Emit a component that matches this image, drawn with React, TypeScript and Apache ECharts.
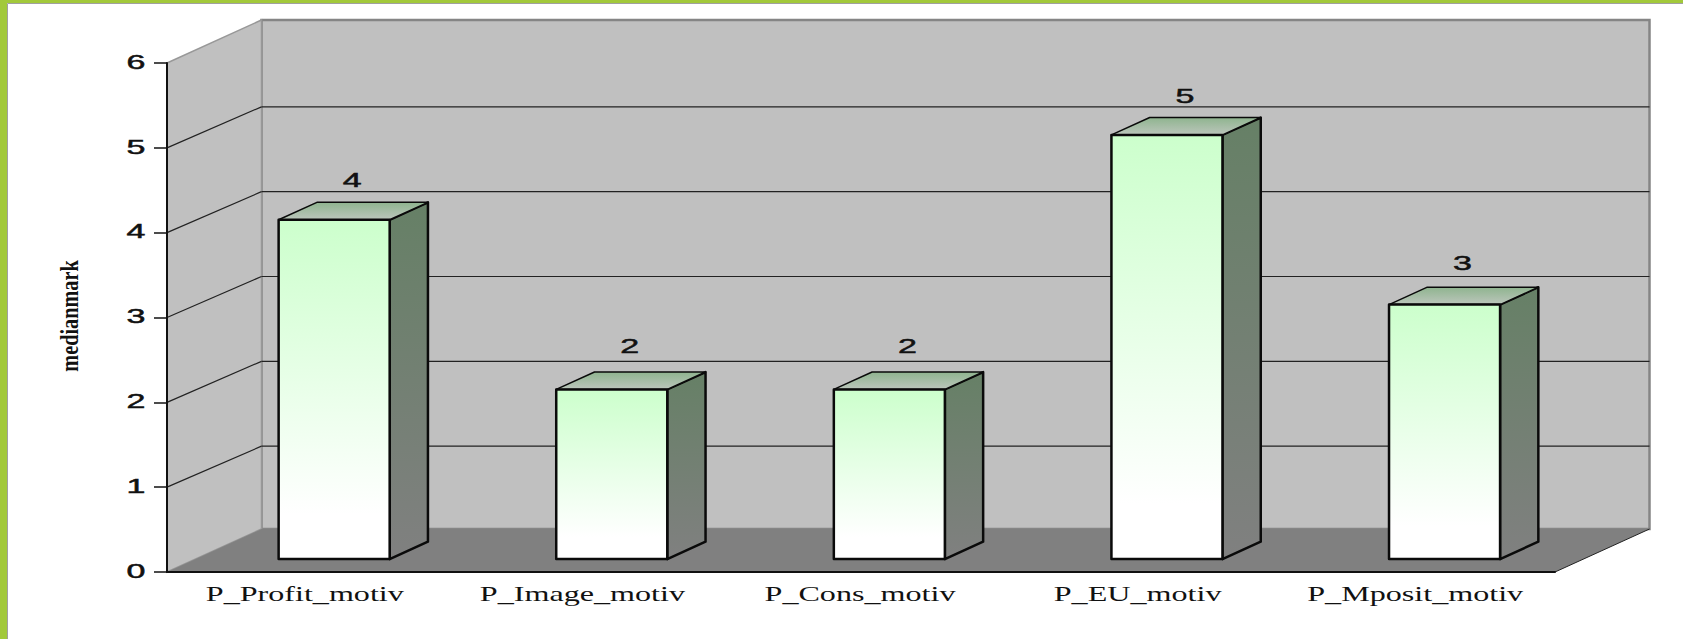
import React, { useEffect, useRef } from "react";
import * as echarts from "echarts";

const categories = ["P_Profit_motiv", "P_Image_motiv", "P_Cons_motiv", "P_EU_motiv", "P_Mposit_motiv"];
const medians = [4, 2, 2, 5, 3];
const yTicks = [0, 1, 2, 3, 4, 5, 6];
const yTitle = "medianmark";

// Oblique offset of the back plane relative to the front plane
const DEPTH_X = 94.5;
const DEPTH_Y = -43;
const GRID_DEPTH_Y = -41;
// Where a bar's front and back faces sit within that depth
const BAR_FRONT = 0.3;
const BAR_BACK = 0.705;
const BAR_WIDTH_RATIO = 0.4;

const SANS = "Liberation Sans";
const SERIF = "Liberation Serif";

const wideText = (text: string, x: number, y: number, font: string, size: number, sx: number, weight = 0) => ({
  type: "text",
  x,
  y,
  scaleX: sx,
  style: {
    text,
    fontFamily: font,
    fontSize: size,
    fill: "#111",
    stroke: weight ? "#111" : undefined,
    lineWidth: weight,
    textAlign: "center",
    textVerticalAlign: "middle",
  },
});

function renderWalls(_: any, api: any) {
  const [x0, y0] = api.coord([0, 0]);
  const band = api.size([1, 0])[0];
  const x1 = x0 - band / 2 + band * categories.length;
  const xl = x0 - band / 2;
  const yTop = api.coord([0, 6])[1];
  return {
    type: "group",
    children: [
      {
        type: "polygon",
        shape: { points: [[xl + DEPTH_X, yTop + DEPTH_Y], [x1 + DEPTH_X, yTop + DEPTH_Y], [x1 + DEPTH_X, y0 + DEPTH_Y], [xl + DEPTH_X, y0 + DEPTH_Y]] },
        style: { fill: "#c0c0c0", stroke: "#858585", lineWidth: 2.5 },
      },
      {
        type: "polygon",
        shape: { points: [[xl, yTop], [xl + DEPTH_X, yTop + DEPTH_Y], [xl + DEPTH_X, y0 + DEPTH_Y], [xl, y0]] },
        style: { fill: "#c0c0c0", stroke: "#989898", lineWidth: 1.5 },
      },
      {
        type: "polygon",
        shape: { points: [[xl, y0], [xl + DEPTH_X, y0 + DEPTH_Y], [x1 + DEPTH_X, y0 + DEPTH_Y], [x1, y0]] },
        style: { fill: "#808080" },
      },
      {
        type: "line",
        shape: { x1, y1: y0, x2: x1 + DEPTH_X, y2: y0 + DEPTH_Y },
        style: { stroke: "#222", lineWidth: 1 },
      },
    ],
  };
}

function renderGridLine(_: any, api: any) {
  const v = api.value(1);
  const [cx, y] = api.coord([0, v]);
  const band = api.size([1, 0])[0];
  const xl = cx - band / 2;
  const x1 = xl + band * categories.length;
  const children: any[] = [];
  if (v > 0 && v < 6) {
    children.push(
      { type: "line", shape: { x1: xl, y1: y, x2: xl + DEPTH_X, y2: y + GRID_DEPTH_Y }, style: { stroke: "#222", lineWidth: 1.2 } },
      { type: "line", shape: { x1: xl + DEPTH_X, y1: y + GRID_DEPTH_Y, x2: x1 + DEPTH_X, y2: y + GRID_DEPTH_Y }, style: { stroke: "#222", lineWidth: 1.2 } },
    );
  }
  children.push(wideText(String(v), xl - 31, y - 1, SANS, 20, 1.7, 0.5));
  return { type: "group", children };
}

function renderBar(_: any, api: any) {
  const idx = api.value(0);
  const v = api.value(1);
  const [cx, top] = api.coord([idx, v]);
  const base = api.coord([idx, 0])[1];
  const w = api.size([1, 0])[0] * BAR_WIDTH_RATIO;
  const fx = DEPTH_X * BAR_FRONT;
  const fy = DEPTH_Y * BAR_FRONT;
  const dx = DEPTH_X * (BAR_BACK - BAR_FRONT);
  const dy = DEPTH_Y * (BAR_BACK - BAR_FRONT);
  const l = cx + fx - w / 2;
  const r = l + w;
  const t = top + fy;
  const b = base + fy;
  const edge = { stroke: "#0a0a0a", lineWidth: 2.5, lineJoin: "round" };
  const ramp = (a: string, c: string, whiteAt = 1) =>
    new echarts.graphic.LinearGradient(0, 0, 0, 1, [
      { offset: 0, color: a },
      { offset: whiteAt, color: c },
      { offset: 1, color: c },
    ]);
  const lift = 43 - 1.5 * (v - 2);
  return {
    type: "group",
    children: [
      { type: "polygon", shape: { points: [[r, t], [r + dx, t + dy], [r + dx, b + dy], [r, b]] }, style: { fill: ramp("#668066", "#808080"), ...edge } },
      { type: "polygon", shape: { points: [[l, t], [l + dx, t + dy], [r + dx, t + dy], [r, t]] }, style: { fill: ramp("#8fb48f", "#bcc6bc"), ...edge, lineWidth: 1.5 } },
      { type: "polygon", shape: { points: [[l, t], [r, t], [r, b], [l, b]] }, style: { fill: ramp("#ccffcc", "#ffffff", 0.87), ...edge } },
      wideText(String(v), cx + fx + 18, t - lift, SANS, 20, 1.7, 0.5),
    ],
  };
}

function renderCategoryLabel(_: any, api: any) {
  const idx = api.value(0);
  const [cx, y0] = api.coord([idx, 0]);
  return wideText(categories[idx], cx - 1, y0 + 22, SERIF, 21, 1.53);
}

export default function App() {
  const ref = useRef<HTMLDivElement>(null);

  useEffect(() => {
    const chart = echarts.init(ref.current!, undefined, { renderer: "svg" });
    chart.setOption({
      animation: false,
      backgroundColor: "#ffffff",
      grid: { left: 167, right: 128, top: 63, bottom: 67 },
      xAxis: {
        type: "category",
        data: categories,
        z: 5,
        axisLine: { lineStyle: { color: "#111", width: 2 } },
        axisTick: { length: 7, lineStyle: { color: "#111", width: 1.5 } },
        axisLabel: { show: false },
        splitLine: { show: false },
      },
      yAxis: {
        type: "value",
        min: 0,
        max: 6,
        interval: 1,
        z: 5,
        axisLine: { show: true, lineStyle: { color: "#111", width: 2 } },
        axisTick: { show: true, length: 13, lineStyle: { color: "#111", width: 1.5 } },
        axisLabel: { show: false },
        splitLine: { show: false },
      },
      graphic: [
        { type: "rect", z: -10, shape: { x: 0, y: 0, width: 1683, height: 3 }, style: { fill: "#a2c93a" } },
        { type: "rect", z: -10, shape: { x: 0, y: 0, width: 7, height: 639 }, style: { fill: "#a2c93a" } },
        { type: "line", z: -10, shape: { x1: 7.5, y1: 3.5, x2: 1683, y2: 3.5 }, style: { stroke: "#a0a0a0", lineWidth: 1 } },
        { type: "line", z: -10, shape: { x1: 7.5, y1: 3.5, x2: 7.5, y2: 639 }, style: { stroke: "#a0a0a0", lineWidth: 1 } },
        {
          type: "text",
          x: 69,
          y: 316,
          rotation: Math.PI / 2,
          scaleX: 0.78,
          style: { text: yTitle, fontFamily: SERIF, fontSize: 26, fontWeight: "bold", fill: "#111", textAlign: "center", textVerticalAlign: "middle" },
        },
      ],
      series: [
        { type: "custom", z: 1, silent: true, renderItem: renderWalls, data: [[0, 0]] },
        { type: "custom", z: 2, silent: true, renderItem: renderGridLine, data: yTicks.map((v) => [0, v]) },
        { type: "custom", z: 6, silent: true, renderItem: renderBar, data: medians.map((v, i) => [i, v]) },
        { type: "custom", z: 6, silent: true, renderItem: renderCategoryLabel, data: categories.map((_, i) => [i, 0]) },
      ],
    });
    return () => chart.dispose();
  }, []);

  return <div ref={ref} style={{ position: "fixed", left: 0, top: 0, width: 1683, height: 639 }} />;
}
